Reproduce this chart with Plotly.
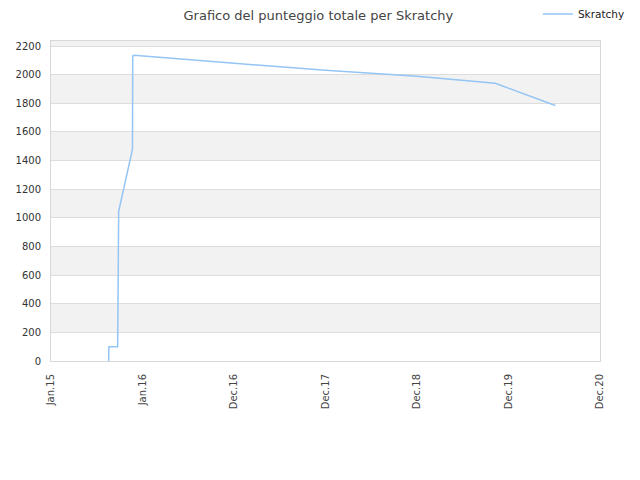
import plotly.graph_objects as go

# punteggio totale di Skratchy nel tempo
date = ['2015-08-19', '2015-08-20', '2015-09-24', '2015-09-25', '2015-09-28',
        '2015-11-22', '2015-11-23', '2015-11-29', '2016-12-31', '2017-12-31',
        '2018-12-31', '2019-11-08', '2020-07-05']
punteggio = [0, 100, 100, 690, 1045, 1480, 2130, 2135, 2081, 2030, 1988, 1940, 1785]

tick_date = ['2015-01-01', '2016-01-01', '2016-12-31', '2017-12-31',
             '2018-12-31', '2019-12-31', '2020-12-30']
tick_testo = ['Jan.15', 'Jan.16', 'Dec.16', 'Dec.17', 'Dec.18', 'Dec.19', 'Dec.20']

bande = [(200, 400), (600, 800), (1000, 1200), (1400, 1600), (1800, 2000), (2200, 2400)]
y_max = 2235

fig = go.Figure()
fig.add_trace(go.Scatter(x=date, y=punteggio, mode='lines', name='Skratchy',
                         line=dict(color='#94c5f4', width=1.5)))

for b0, b1 in bande:
    fig.add_shape(type='rect', xref='paper', yref='y', x0=0, x1=1,
                  y0=b0, y1=min(b1, y_max), fillcolor='#f2f2f2',
                  line_width=0, layer='below')

# la pagina ha 8px di margine del body: margini compensati
fig.update_layout(
    width=640, height=480,
    margin=dict(l=43, r=48, t=33, b=127, autoexpand=False),
    paper_bgcolor='white', plot_bgcolor='white',
    font=dict(family='DejaVu Sans', size=10, color='#333'),
    title=dict(text='Grafico del punteggio totale per Skratchy', x=0.485, y=0.984,
               xref='container', yref='container', automargin=False,
               xanchor='center', yanchor='middle',
               font=dict(size=13, color='#444')),
    showlegend=True,
    legend=dict(x=0.828, y=1.084, xanchor='left', yanchor='middle',
                xref='container', yref='paper',
                font=dict(size=10.5, color='#222'), bgcolor='rgba(0,0,0,0)'),
    xaxis=dict(range=['2015-01-01', '2020-12-30'], tickvals=tick_date,
               ticktext=tick_testo, tickangle=-90, showgrid=False,
               showline=True, linecolor='#d8d8d8', mirror=True, automargin=False,
               ticks='', ticklabelstandoff=8, zeroline=False,
               tickfont=dict(size=10, color='#444')),
    yaxis=dict(range=[0, y_max], dtick=200, showgrid=True, gridcolor='#dddddd',
               showline=True, linecolor='#d8d8d8', mirror=True, ticks='',
               ticklabelstandoff=7, automargin=False, zeroline=False,
               tickfont=dict(size=10, color='#333')),
)

fig.write_html('out.html')
